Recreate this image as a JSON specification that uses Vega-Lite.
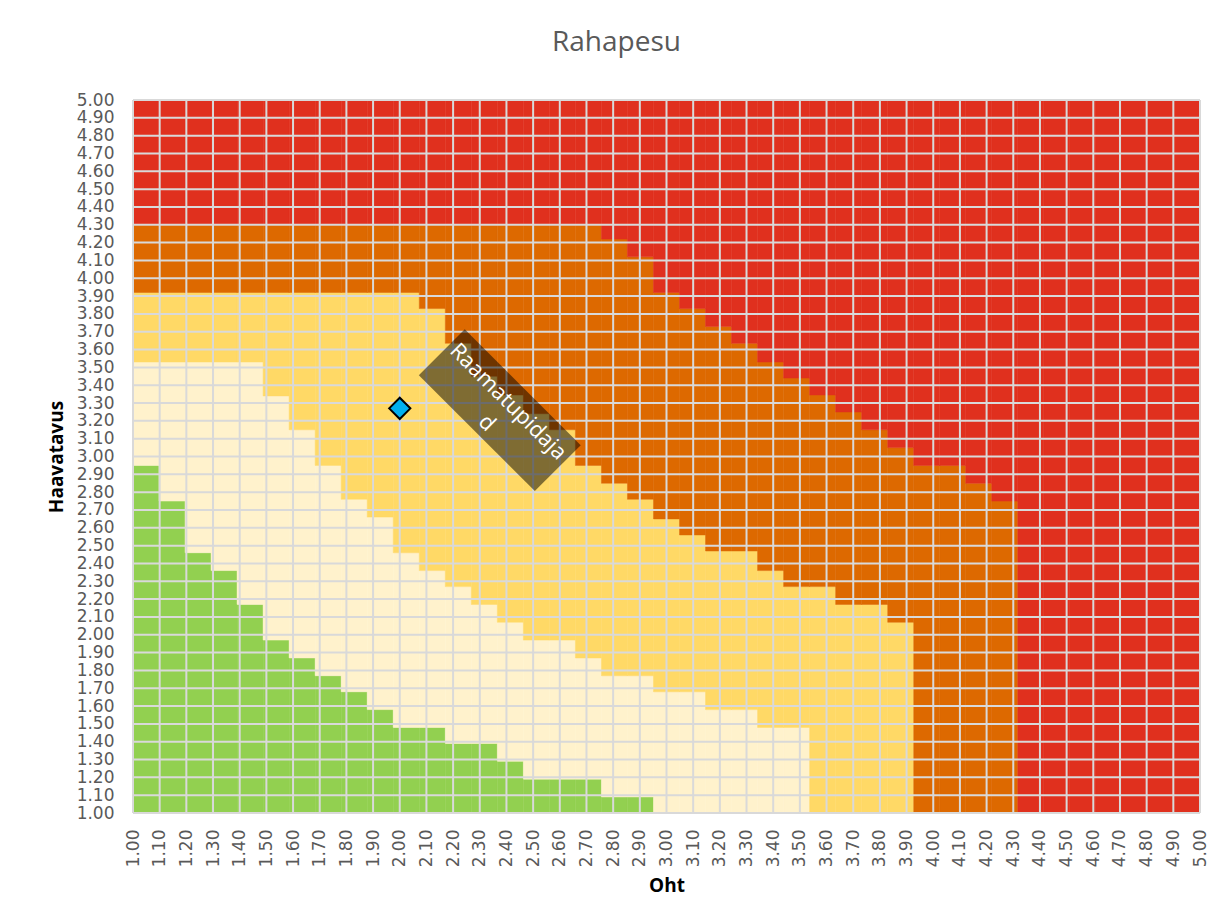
{
  "$schema": "https://vega.github.io/schema/vega-lite/v6.json",
  "width": 1067,
  "height": 713,
  "autosize": {"type": "none"},
  "padding": {"left": 133, "top": 100, "right": 23, "bottom": 104},
  "background": "white",
  "config": {
    "view": {"stroke": null},
    "font": "Open Sans",
    "axis": {
      "grid": false, "domain": false, "ticks": false, "tickSize": 0,
      "labelFontSize": 17, "labelFont": "DejaVu Sans", "labelColor": "#595959",
      "labelOverlap": false, "labelFlush": false,
      "titleFont": "Open Sans", "titleFontSize": 19, "titleFontWeight": "bold", "titleColor": "black", "titlePadding": 10
    },
    "axisX": {"labelAngle": -90, "labelPadding": 16},
    "axisY": {"labelPadding": 19}
  },
  "title": {"text": "Rahapesu", "fontSize": 28, "font": "Open Sans", "fontWeight": "normal", "color": "#595959", "anchor": "middle", "dx": -50, "offset": 34},
  "datasets": {
    "cells": [
      {"x": 1.0, "g": 2.95, "c": 3.53, "yl": 3.92, "o": 4.3},
      {"x": 1.1, "g": 2.75, "c": 3.53, "yl": 3.92, "o": 4.3},
      {"x": 1.2, "g": 2.46, "c": 3.53, "yl": 3.92, "o": 4.3},
      {"x": 1.3, "g": 2.36, "c": 3.53, "yl": 3.92, "o": 4.3},
      {"x": 1.4, "g": 2.17, "c": 3.53, "yl": 3.92, "o": 4.3},
      {"x": 1.5, "g": 1.97, "c": 3.34, "yl": 3.92, "o": 4.3},
      {"x": 1.6, "g": 1.87, "c": 3.15, "yl": 3.92, "o": 4.3},
      {"x": 1.7, "g": 1.77, "c": 2.95, "yl": 3.92, "o": 4.3},
      {"x": 1.8, "g": 1.68, "c": 2.76, "yl": 3.92, "o": 4.3},
      {"x": 1.9, "g": 1.58, "c": 2.66, "yl": 3.92, "o": 4.3},
      {"x": 2.0, "g": 1.48, "c": 2.46, "yl": 3.92, "o": 4.3},
      {"x": 2.1, "g": 1.48, "c": 2.36, "yl": 3.83, "o": 4.3},
      {"x": 2.2, "g": 1.39, "c": 2.27, "yl": 3.635, "o": 4.3},
      {"x": 2.3, "g": 1.39, "c": 2.17, "yl": 3.45, "o": 4.3},
      {"x": 2.4, "g": 1.29, "c": 2.07, "yl": 3.345, "o": 4.3},
      {"x": 2.5, "g": 1.19, "c": 1.97, "yl": 3.24, "o": 4.3},
      {"x": 2.6, "g": 1.19, "c": 1.97, "yl": 3.15, "o": 4.3},
      {"x": 2.7, "g": 1.19, "c": 1.87, "yl": 2.95, "o": 4.3},
      {"x": 2.8, "g": 1.09, "c": 1.77, "yl": 2.85, "o": 4.22},
      {"x": 2.9, "g": 1.09, "c": 1.77, "yl": 2.76, "o": 4.12},
      {"x": 3.0, "g": 1.0, "c": 1.68, "yl": 2.65, "o": 3.92},
      {"x": 3.1, "g": 1.0, "c": 1.68, "yl": 2.56, "o": 3.83},
      {"x": 3.2, "g": 1.0, "c": 1.58, "yl": 2.47, "o": 3.73},
      {"x": 3.3, "g": 1.0, "c": 1.58, "yl": 2.47, "o": 3.635},
      {"x": 3.4, "g": 1.0, "c": 1.48, "yl": 2.36, "o": 3.53},
      {"x": 3.5, "g": 1.0, "c": 1.48, "yl": 2.27, "o": 3.44},
      {"x": 3.6, "g": 1.0, "c": 1.0, "yl": 2.27, "o": 3.345},
      {"x": 3.7, "g": 1.0, "c": 1.0, "yl": 2.17, "o": 3.25},
      {"x": 3.8, "g": 1.0, "c": 1.0, "yl": 2.17, "o": 3.15},
      {"x": 3.9, "g": 1.0, "c": 1.0, "yl": 2.07, "o": 3.05},
      {"x": 4.0, "g": 1.0, "c": 1.0, "yl": 1.0, "o": 2.95},
      {"x": 4.1, "g": 1.0, "c": 1.0, "yl": 1.0, "o": 2.95},
      {"x": 4.2, "g": 1.0, "c": 1.0, "yl": 1.0, "o": 2.85},
      {"x": 4.3, "g": 1.0, "c": 1.0, "yl": 1.0, "o": 2.75},
      {"x": 4.4, "g": 1.0, "c": 1.0, "yl": 1.0, "o": 1.0},
      {"x": 4.5, "g": 1.0, "c": 1.0, "yl": 1.0, "o": 1.0},
      {"x": 4.6, "g": 1.0, "c": 1.0, "yl": 1.0, "o": 1.0},
      {"x": 4.7, "g": 1.0, "c": 1.0, "yl": 1.0, "o": 1.0},
      {"x": 4.8, "g": 1.0, "c": 1.0, "yl": 1.0, "o": 1.0},
      {"x": 4.9, "g": 1.0, "c": 1.0, "yl": 1.0, "o": 1.0},
      {"x": 5.0, "g": 1.0, "c": 1.0, "yl": 1.0, "o": 1.0}
    ],
    "ticks": [
      {"t": 1.0}, {"t": 1.1}, {"t": 1.2}, {"t": 1.3}, {"t": 1.4}, {"t": 1.5}, {"t": 1.6}, {"t": 1.7}, {"t": 1.8}, {"t": 1.9},
      {"t": 2.0}, {"t": 2.1}, {"t": 2.2}, {"t": 2.3}, {"t": 2.4}, {"t": 2.5}, {"t": 2.6}, {"t": 2.7}, {"t": 2.8}, {"t": 2.9},
      {"t": 3.0}, {"t": 3.1}, {"t": 3.2}, {"t": 3.3}, {"t": 3.4}, {"t": 3.5}, {"t": 3.6}, {"t": 3.7}, {"t": 3.8}, {"t": 3.9},
      {"t": 4.0}, {"t": 4.1}, {"t": 4.2}, {"t": 4.3}, {"t": 4.4}, {"t": 4.5}, {"t": 4.6}, {"t": 4.7}, {"t": 4.8}, {"t": 4.9},
      {"t": 5.0}
    ],
    "notes": [{"px": 2.375, "py": 3.26, "label": "Raamatupidaja\nd"}],
    "point": [{"px": 2.0, "py": 3.27}]
  },
  "layer": [
    {
      "data": {"name": "cells"},
      "encoding": {
        "x": {"field": "x", "type": "ordinal", "scale": {"paddingInner": 0, "paddingOuter": 0}, "axis": null}
      },
      "layer": [
        {
          "mark": {"type": "bar", "color": "#92D050", "stroke": "#92D050", "strokeWidth": 0.5},
          "encoding": {
            "y": {"field": "g", "type": "quantitative", "scale": {"domain": [1, 5], "nice": false, "zero": false},
              "axis": {"title": "Haavatavus", "orient": "left", "format": ".2f", "labelOverlap": false, "values": [1.0, 1.1, 1.2, 1.3, 1.4, 1.5, 1.6, 1.7, 1.8, 1.9, 2.0, 2.1, 2.2, 2.3, 2.4, 2.5, 2.6, 2.7, 2.8, 2.9, 3.0, 3.1, 3.2, 3.3, 3.4, 3.5, 3.6, 3.7, 3.8, 3.9, 4.0, 4.1, 4.2, 4.3, 4.4, 4.5, 4.6, 4.7, 4.8, 4.9, 5.0]}},
            "y2": {"datum": 1}
          }
        },
        {
          "mark": {"type": "bar", "color": "#FFF2CC", "stroke": "#FFF2CC", "strokeWidth": 0.5},
          "encoding": {
            "y": {"field": "c", "type": "quantitative", "scale": {"domain": [1, 5], "nice": false, "zero": false},
              "axis": {"title": "Haavatavus", "orient": "left", "format": ".2f", "labelOverlap": false, "values": [1.0, 1.1, 1.2, 1.3, 1.4, 1.5, 1.6, 1.7, 1.8, 1.9, 2.0, 2.1, 2.2, 2.3, 2.4, 2.5, 2.6, 2.7, 2.8, 2.9, 3.0, 3.1, 3.2, 3.3, 3.4, 3.5, 3.6, 3.7, 3.8, 3.9, 4.0, 4.1, 4.2, 4.3, 4.4, 4.5, 4.6, 4.7, 4.8, 4.9, 5.0]}},
            "y2": {"field": "g"}
          }
        },
        {
          "mark": {"type": "bar", "color": "#FFD966", "stroke": "#FFD966", "strokeWidth": 0.5},
          "encoding": {
            "y": {"field": "yl", "type": "quantitative", "scale": {"domain": [1, 5], "nice": false, "zero": false},
              "axis": {"title": "Haavatavus", "orient": "left", "format": ".2f", "labelOverlap": false, "values": [1.0, 1.1, 1.2, 1.3, 1.4, 1.5, 1.6, 1.7, 1.8, 1.9, 2.0, 2.1, 2.2, 2.3, 2.4, 2.5, 2.6, 2.7, 2.8, 2.9, 3.0, 3.1, 3.2, 3.3, 3.4, 3.5, 3.6, 3.7, 3.8, 3.9, 4.0, 4.1, 4.2, 4.3, 4.4, 4.5, 4.6, 4.7, 4.8, 4.9, 5.0]}},
            "y2": {"field": "c"}
          }
        },
        {
          "mark": {"type": "bar", "color": "#DD6900", "stroke": "#DD6900", "strokeWidth": 0.5},
          "encoding": {
            "y": {"field": "o", "type": "quantitative", "scale": {"domain": [1, 5], "nice": false, "zero": false},
              "axis": {"title": "Haavatavus", "orient": "left", "format": ".2f", "labelOverlap": false, "values": [1.0, 1.1, 1.2, 1.3, 1.4, 1.5, 1.6, 1.7, 1.8, 1.9, 2.0, 2.1, 2.2, 2.3, 2.4, 2.5, 2.6, 2.7, 2.8, 2.9, 3.0, 3.1, 3.2, 3.3, 3.4, 3.5, 3.6, 3.7, 3.8, 3.9, 4.0, 4.1, 4.2, 4.3, 4.4, 4.5, 4.6, 4.7, 4.8, 4.9, 5.0]}},
            "y2": {"field": "yl"}
          }
        },
        {
          "mark": {"type": "bar", "color": "#E0301E", "stroke": "#E0301E", "strokeWidth": 0.5},
          "encoding": {
            "y": {"field": "o", "type": "quantitative", "scale": {"domain": [1, 5], "nice": false, "zero": false},
              "axis": {"title": "Haavatavus", "orient": "left", "format": ".2f", "labelOverlap": false, "values": [1.0, 1.1, 1.2, 1.3, 1.4, 1.5, 1.6, 1.7, 1.8, 1.9, 2.0, 2.1, 2.2, 2.3, 2.4, 2.5, 2.6, 2.7, 2.8, 2.9, 3.0, 3.1, 3.2, 3.3, 3.4, 3.5, 3.6, 3.7, 3.8, 3.9, 4.0, 4.1, 4.2, 4.3, 4.4, 4.5, 4.6, 4.7, 4.8, 4.9, 5.0]}},
            "y2": {"datum": 5}
          }
        }
      ]
    },
    {
      "layer": [
        {
          "data": {"name": "ticks"},
          "mark": {"type": "rule", "color": "#D9D9D9", "strokeWidth": 2},
          "encoding": {
            "y": {"field": "t", "type": "quantitative", "scale": {"domain": [1, 5], "nice": false, "zero": false},
              "axis": {"title": "Haavatavus", "orient": "left", "format": ".2f", "labelOverlap": false, "values": [1.0, 1.1, 1.2, 1.3, 1.4, 1.5, 1.6, 1.7, 1.8, 1.9, 2.0, 2.1, 2.2, 2.3, 2.4, 2.5, 2.6, 2.7, 2.8, 2.9, 3.0, 3.1, 3.2, 3.3, 3.4, 3.5, 3.6, 3.7, 3.8, 3.9, 4.0, 4.1, 4.2, 4.3, 4.4, 4.5, 4.6, 4.7, 4.8, 4.9, 5.0]}}
          }
        },
        {
          "data": {"name": "ticks"},
          "mark": {"type": "rule", "color": "#D9D9D9", "strokeWidth": 2},
          "encoding": {
            "x": {"field": "t", "type": "quantitative", "scale": {"domain": [1, 5], "nice": false, "zero": false},
              "axis": {"title": "Oht", "orient": "bottom", "format": ".2f", "labelOverlap": false, "values": [1.0, 1.1, 1.2, 1.3, 1.4, 1.5, 1.6, 1.7, 1.8, 1.9, 2.0, 2.1, 2.2, 2.3, 2.4, 2.5, 2.6, 2.7, 2.8, 2.9, 3.0, 3.1, 3.2, 3.3, 3.4, 3.5, 3.6, 3.7, 3.8, 3.9, 4.0, 4.1, 4.2, 4.3, 4.4, 4.5, 4.6, 4.7, 4.8, 4.9, 5.0]}}
          }
        },
        {
          "data": {"name": "notes"},
          "mark": {"type": "point", "shape": "M-1,-0.396L1,-0.396L1,0.396L-1,0.396Z", "size": 26896, "angle": 45, "filled": true, "color": "black", "opacity": 0.5, "strokeWidth": 0},
          "encoding": {
            "x": {"field": "px", "type": "quantitative", "scale": {"domain": [1, 5], "nice": false, "zero": false},
              "axis": {"title": "Oht", "orient": "bottom", "format": ".2f", "labelOverlap": false, "values": [1.0, 1.1, 1.2, 1.3, 1.4, 1.5, 1.6, 1.7, 1.8, 1.9, 2.0, 2.1, 2.2, 2.3, 2.4, 2.5, 2.6, 2.7, 2.8, 2.9, 3.0, 3.1, 3.2, 3.3, 3.4, 3.5, 3.6, 3.7, 3.8, 3.9, 4.0, 4.1, 4.2, 4.3, 4.4, 4.5, 4.6, 4.7, 4.8, 4.9, 5.0]}},
            "y": {"field": "py", "type": "quantitative", "scale": {"domain": [1, 5], "nice": false, "zero": false},
              "axis": {"title": "Haavatavus", "orient": "left", "format": ".2f", "labelOverlap": false, "values": [1.0, 1.1, 1.2, 1.3, 1.4, 1.5, 1.6, 1.7, 1.8, 1.9, 2.0, 2.1, 2.2, 2.3, 2.4, 2.5, 2.6, 2.7, 2.8, 2.9, 3.0, 3.1, 3.2, 3.3, 3.4, 3.5, 3.6, 3.7, 3.8, 3.9, 4.0, 4.1, 4.2, 4.3, 4.4, 4.5, 4.6, 4.7, 4.8, 4.9, 5.0]}}
          }
        },
        {
          "data": {"name": "notes"},
          "mark": {"type": "text", "angle": 45, "fontSize": 22, "font": "Open Sans", "color": "white", "lineBreak": "\n", "lineHeight": 30, "align": "center", "baseline": "middle", "dy": -12},
          "encoding": {
            "x": {"field": "px", "type": "quantitative", "scale": {"domain": [1, 5], "nice": false, "zero": false},
              "axis": {"title": "Oht", "orient": "bottom", "format": ".2f", "labelOverlap": false, "values": [1.0, 1.1, 1.2, 1.3, 1.4, 1.5, 1.6, 1.7, 1.8, 1.9, 2.0, 2.1, 2.2, 2.3, 2.4, 2.5, 2.6, 2.7, 2.8, 2.9, 3.0, 3.1, 3.2, 3.3, 3.4, 3.5, 3.6, 3.7, 3.8, 3.9, 4.0, 4.1, 4.2, 4.3, 4.4, 4.5, 4.6, 4.7, 4.8, 4.9, 5.0]}},
            "y": {"field": "py", "type": "quantitative", "scale": {"domain": [1, 5], "nice": false, "zero": false},
              "axis": {"title": "Haavatavus", "orient": "left", "format": ".2f", "labelOverlap": false, "values": [1.0, 1.1, 1.2, 1.3, 1.4, 1.5, 1.6, 1.7, 1.8, 1.9, 2.0, 2.1, 2.2, 2.3, 2.4, 2.5, 2.6, 2.7, 2.8, 2.9, 3.0, 3.1, 3.2, 3.3, 3.4, 3.5, 3.6, 3.7, 3.8, 3.9, 4.0, 4.1, 4.2, 4.3, 4.4, 4.5, 4.6, 4.7, 4.8, 4.9, 5.0]}},
            "text": {"field": "label", "type": "nominal"}
          }
        },
        {
          "data": {"name": "point"},
          "mark": {"type": "point", "shape": "diamond", "size": 450, "filled": true, "fill": "#00B0F0", "stroke": "black", "strokeWidth": 2, "opacity": 1},
          "encoding": {
            "x": {"field": "px", "type": "quantitative", "scale": {"domain": [1, 5], "nice": false, "zero": false},
              "axis": {"title": "Oht", "orient": "bottom", "format": ".2f", "labelOverlap": false, "values": [1.0, 1.1, 1.2, 1.3, 1.4, 1.5, 1.6, 1.7, 1.8, 1.9, 2.0, 2.1, 2.2, 2.3, 2.4, 2.5, 2.6, 2.7, 2.8, 2.9, 3.0, 3.1, 3.2, 3.3, 3.4, 3.5, 3.6, 3.7, 3.8, 3.9, 4.0, 4.1, 4.2, 4.3, 4.4, 4.5, 4.6, 4.7, 4.8, 4.9, 5.0]}},
            "y": {"field": "py", "type": "quantitative", "scale": {"domain": [1, 5], "nice": false, "zero": false},
              "axis": {"title": "Haavatavus", "orient": "left", "format": ".2f", "labelOverlap": false, "values": [1.0, 1.1, 1.2, 1.3, 1.4, 1.5, 1.6, 1.7, 1.8, 1.9, 2.0, 2.1, 2.2, 2.3, 2.4, 2.5, 2.6, 2.7, 2.8, 2.9, 3.0, 3.1, 3.2, 3.3, 3.4, 3.5, 3.6, 3.7, 3.8, 3.9, 4.0, 4.1, 4.2, 4.3, 4.4, 4.5, 4.6, 4.7, 4.8, 4.9, 5.0]}}
          }
        }
      ]
    }
  ],
  "resolve": {"scale": {"x": "independent"}}
}
